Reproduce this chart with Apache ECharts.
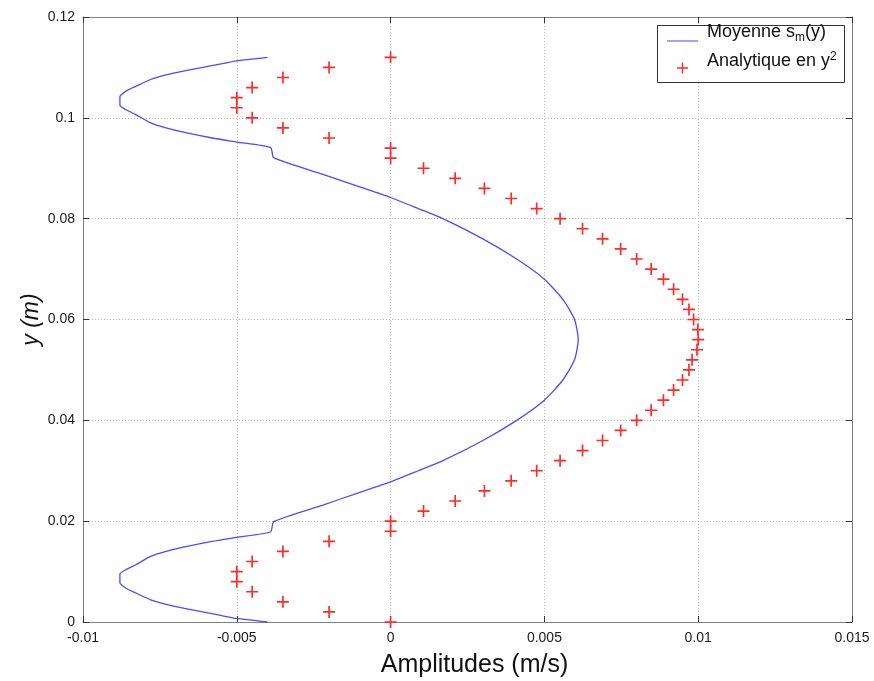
<!DOCTYPE html>
<html>
<head>
<meta charset="utf-8">
<script src="https://cdn.jsdelivr.net/npm/echarts@6/dist/echarts.min.js"></script>
<style>html,body{margin:0;padding:0;background:#fff}#c{width:874px;height:681px}</style>
</head>
<body>
<div id="c"></div>
<script>
// Tick settings
var xTicks = {min: -0.01, max: 0.015, interval: 0.005};
var yTicks = {min: 0, max: 0.12, interval: 0.02};

// Series: Moyenne s_m(y) — amplitude (x) vs y
var meanX = [-0.0040, -0.0050, -0.0056, -0.0067, -0.0073, -0.0078, -0.0083, -0.0086, -0.0088, -0.0088, -0.0086, -0.0083, -0.0078, -0.0073, -0.0067, -0.0058, -0.0050, -0.0039, -0.0038,
  -0.0022, -0.0011, 0.0000, 0.0009, 0.0017, 0.0030, 0.0041, 0.0050, 0.0056, 0.00598, 0.0061, 0.00598, 0.0056, 0.0050, 0.0041, 0.0030, 0.0017, 0.0009, 0.0000, -0.0011, -0.0022,
  -0.0038, -0.0039, -0.0050, -0.0058, -0.0067, -0.0073, -0.0078, -0.0083, -0.0086, -0.0088, -0.0088, -0.0086, -0.0083, -0.0078, -0.0073, -0.0067, -0.0056, -0.0050, -0.0040];
var meanY = [0.0000, 0.0007, 0.0014, 0.0027, 0.0035, 0.0044, 0.0058, 0.0067, 0.0078, 0.0095, 0.0104, 0.0113, 0.0130, 0.0140, 0.0149, 0.0160, 0.0168, 0.0179, 0.0199,
  0.0232, 0.0255, 0.0278, 0.0300, 0.0320, 0.0360, 0.0400, 0.0440, 0.0480, 0.0520, 0.0560, 0.0600, 0.0640, 0.0680, 0.0720, 0.0760, 0.0800, 0.0820, 0.0842, 0.0865, 0.0888,
  0.0921, 0.0941, 0.0952, 0.0960, 0.0971, 0.0980, 0.0990, 0.1007, 0.1016, 0.1025, 0.1042, 0.1053, 0.1062, 0.1076, 0.1085, 0.1093, 0.1106, 0.1113, 0.1120];

// Series: Analytique en y^2
var anaY = [0.000, 0.002, 0.004, 0.006, 0.008, 0.010, 0.012, 0.014, 0.016, 0.018, 0.020, 0.022, 0.024, 0.026, 0.028, 0.030, 0.032, 0.034, 0.036, 0.038,
  0.040, 0.042, 0.044, 0.046, 0.048, 0.050, 0.052, 0.054, 0.056, 0.058, 0.060, 0.062, 0.064, 0.066, 0.068, 0.070, 0.072, 0.074, 0.076,
  0.078, 0.080, 0.082, 0.084, 0.086, 0.088, 0.090, 0.092, 0.094, 0.096, 0.098, 0.100, 0.102, 0.104, 0.106, 0.108, 0.110, 0.112];
var anaX = [0.0000, -0.0020, -0.0035, -0.0045, -0.0050, -0.0050, -0.0045, -0.0035, -0.0020, 0.0000, 0.0000, 0.00107, 0.0021, 0.00305, 0.00392, 0.00475, 0.00551, 0.00624, 0.00689, 0.00748,
  0.0080, 0.00847, 0.00887, 0.0092, 0.00949, 0.0097, 0.0098, 0.00996, 0.0100, 0.00999, 0.00985, 0.0097, 0.00949, 0.0092, 0.00887, 0.00847, 0.0080, 0.00748, 0.00689,
  0.00624, 0.00551, 0.00475, 0.00392, 0.00305, 0.0021, 0.00107, 0.0000, 0.0000, -0.0020, -0.0035, -0.0045, -0.0050, -0.0050, -0.0045, -0.0035, -0.0020, 0.0000];

var seriesNames = ['Moyenne s_m(y)', 'Analytique en y^2'];

function zip(a, b) { return a.map(function (v, i) { return [v, b[i]]; }); }
function fmt(v) { return String(+v.toFixed(4)); }

var font = 'Arial, "Liberation Sans", Helvetica, sans-serif';
var axisCol = '#808080';
var gridLine = {show: true, lineStyle: {color: '#b8b8b8', type: [1, 2], width: 1}};
var blue = '#4a4aff', red = '#ff2a2a';

// legend icons: invisible corner points keep the bbox so the visible mark sits low in the box
var corners = 'M0,0L0.01,0L0,0.01ZM35,24L34.99,24L35,23.99Z';
var lineIcon = 'path://' + corners + 'M0,20.4H31V21.6H0Z';
var plusIcon = 'path://' + corners + 'M10,17.8H21V19.2H10ZM14.8,13H16.2V24H14.8Z';

var chart = echarts.init(document.getElementById('c'), null, {renderer: 'canvas'});
chart.setOption({
  animation: false,
  backgroundColor: '#fff',
  grid: {left: 83, right: 22, top: 17, bottom: 59, outerBoundsMode: 'none', containLabel: false},
  graphic: [{
    type: 'rect', left: 657, top: 25, z: 3,
    shape: {width: 187, height: 57},
    style: {fill: '#fff', stroke: '#333', lineWidth: 1}
  }],
  xAxis: [{
    type: 'value', min: xTicks.min, max: xTicks.max, interval: xTicks.interval, position: 'bottom',
    name: 'Amplitudes (m/s)', nameLocation: 'middle', nameGap: 31, nameMoveOverlap: false,
    nameTextStyle: {fontFamily: font, fontSize: 25, color: '#111', padding: [0, 0, 0, 14]},
    axisLine: {show: true, onZero: false, lineStyle: {color: axisCol, width: 1}},
    axisTick: {show: true, inside: true, length: 6, lineStyle: {color: '#333'}},
    axisLabel: {fontFamily: font, fontSize: 14, color: '#1a1a1a', margin: 9, formatter: fmt},
    splitLine: gridLine
  }, {
    type: 'value', min: xTicks.min, max: xTicks.max, interval: xTicks.interval, position: 'top',
    axisLine: {show: true, onZero: false, lineStyle: {color: axisCol, width: 1}},
    axisTick: {show: true, inside: true, length: 6, lineStyle: {color: '#333'}},
    axisLabel: {show: false}, splitLine: {show: false}
  }],
  yAxis: [{
    type: 'value', min: yTicks.min, max: yTicks.max, interval: yTicks.interval, position: 'left',
    name: 'y (m)', nameLocation: 'middle', nameGap: 40, nameMoveOverlap: false,
    nameTextStyle: {fontFamily: font, fontSize: 23, fontStyle: 'italic', color: '#111'},
    axisLine: {show: true, onZero: false, lineStyle: {color: axisCol, width: 1}},
    axisTick: {show: true, inside: true, length: 6, lineStyle: {color: '#333'}},
    axisLabel: {fontFamily: font, fontSize: 14, color: '#1a1a1a', margin: 8, formatter: fmt},
    splitLine: gridLine
  }, {
    type: 'value', min: yTicks.min, max: yTicks.max, interval: yTicks.interval, position: 'right',
    axisLine: {show: true, onZero: false, lineStyle: {color: axisCol, width: 1}},
    axisTick: {show: true, inside: true, length: 6, lineStyle: {color: '#333'}},
    axisLabel: {show: false}, splitLine: {show: false}
  }],
  legend: {
    orient: 'vertical', left: 667, top: 20, z: 5,
    padding: 0, itemGap: 5.5, itemWidth: 35, itemHeight: 24,
    data: [{name: seriesNames[0], icon: lineIcon}, {name: seriesNames[1], icon: plusIcon}],
    textStyle: {fontFamily: font, fontSize: 18, color: '#111',
      rich: {
        sub: {fontFamily: font, fontSize: 12, color: '#111', padding: [11, 0, 0, 0]},
        sup: {fontFamily: font, fontSize: 12, color: '#111', padding: [0, 0, 9, 0]}
      }},
    formatter: function (n) {
      if (n === seriesNames[0]) return 'Moyenne s{sub|m}(y)';
      return 'Analytique en y{sup|2}';
    }
  },
  series: [{
    name: seriesNames[0], type: 'line', data: zip(meanX, meanY),
    symbol: 'none', showSymbol: false, smooth: 0.2,
    lineStyle: {color: blue, width: 1.3}, itemStyle: {color: blue}
  }, {
    name: seriesNames[1], type: 'scatter', data: zip(anaX, anaY),
    symbol: 'path://M8.6,0H11.4V8.6H20V11.4H11.4V20H8.6V11.4H0V8.6H8.6Z', symbolSize: 12,
    itemStyle: {color: red, opacity: 1}
  }]
});
</script>
</body>
</html>
